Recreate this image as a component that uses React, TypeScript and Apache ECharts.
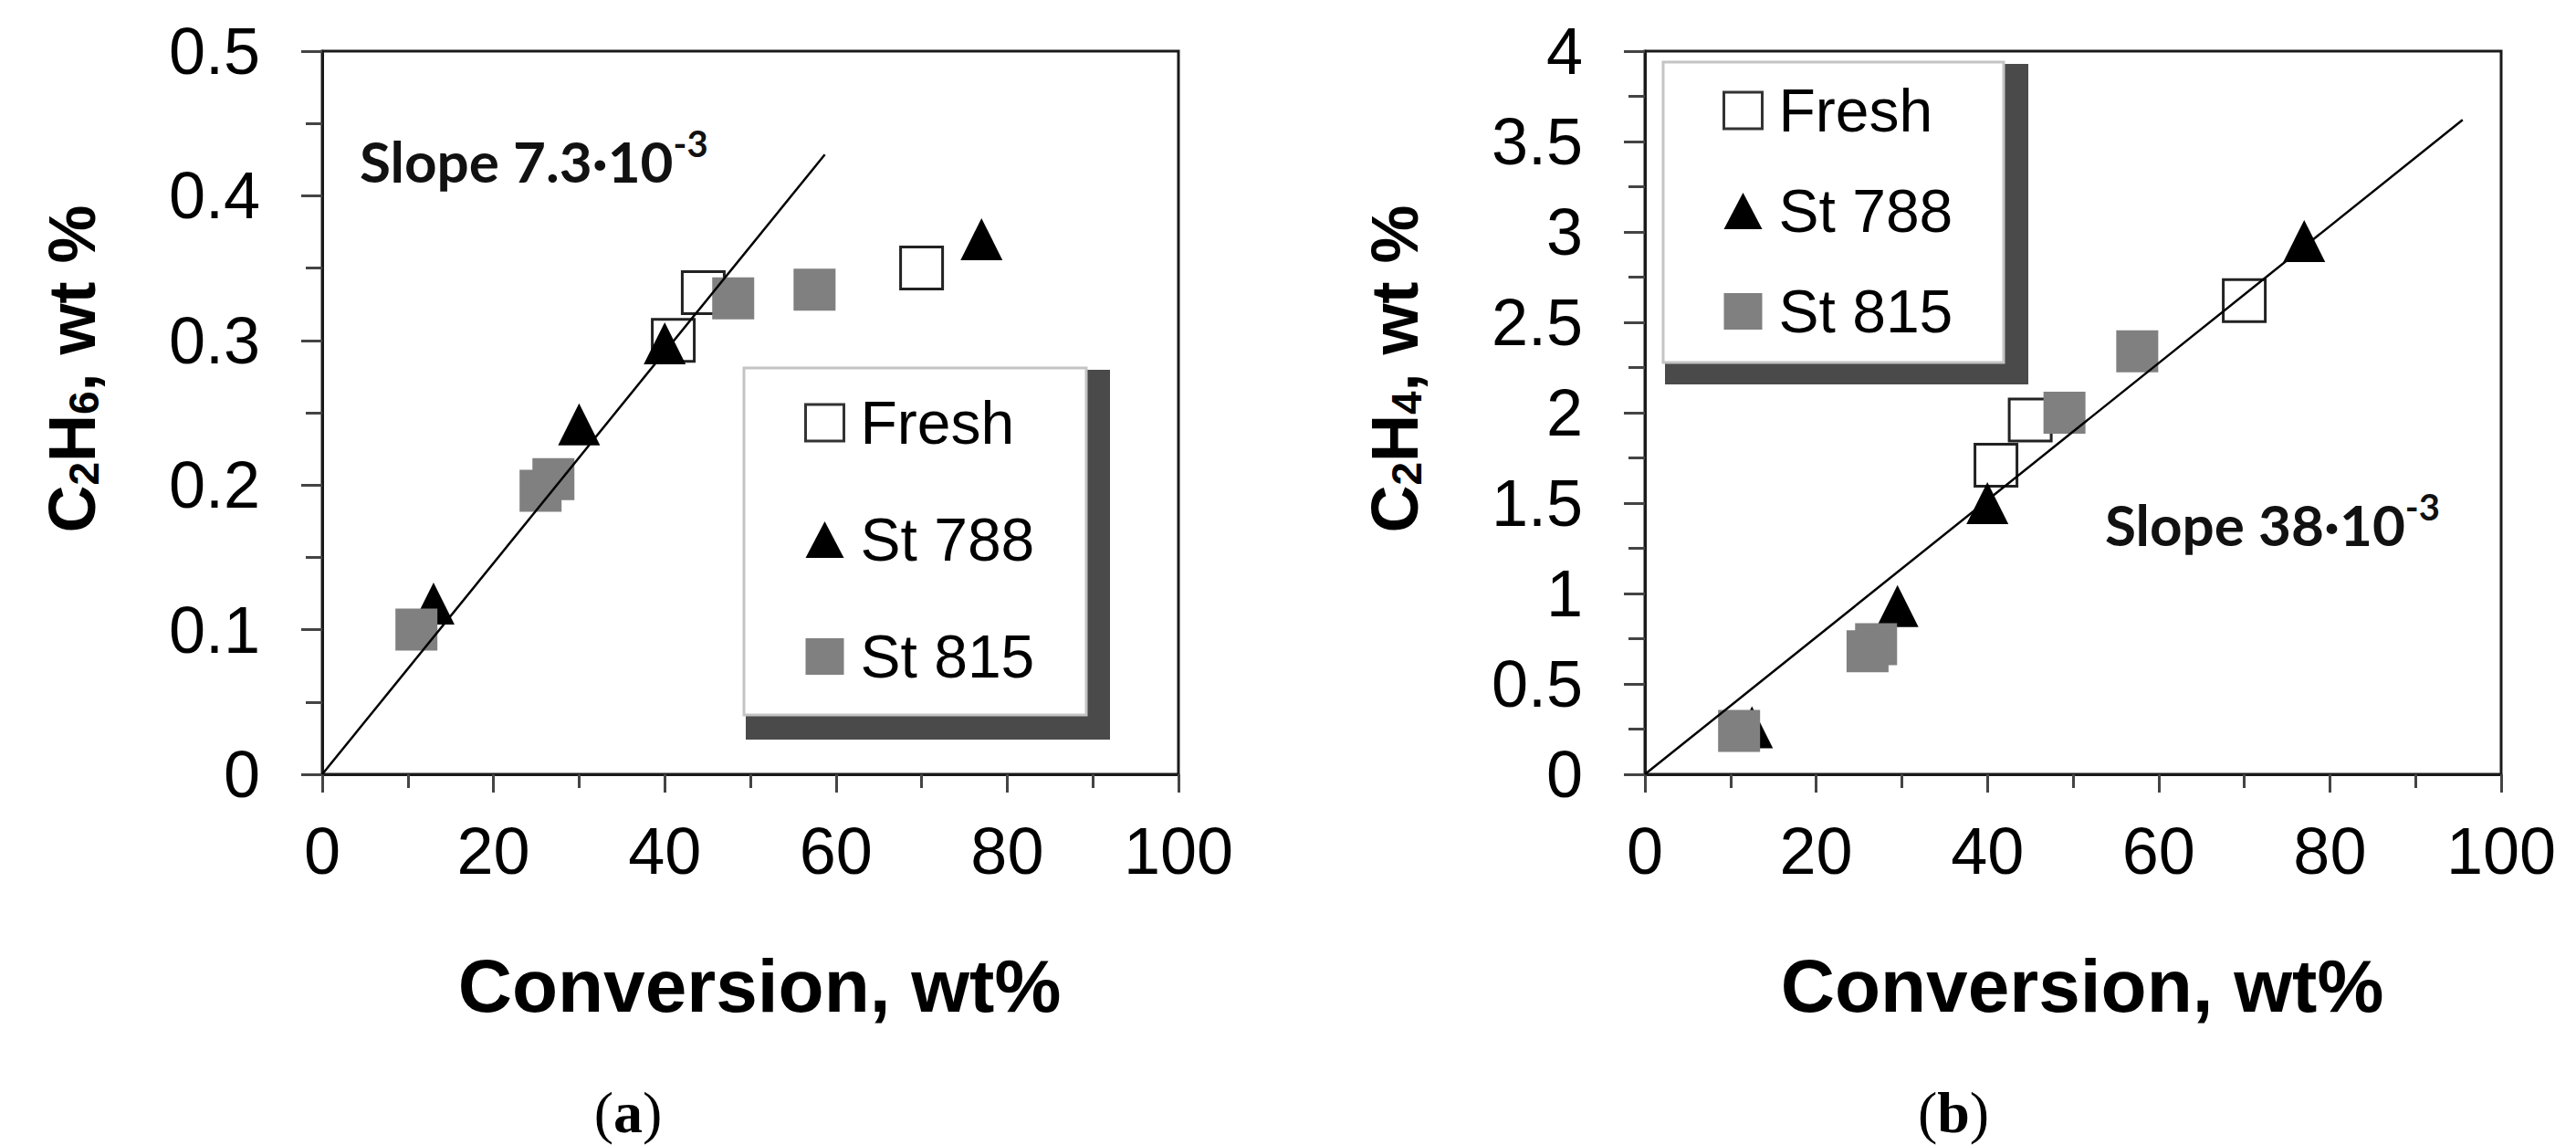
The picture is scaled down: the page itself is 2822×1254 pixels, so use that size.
import React, { useEffect, useRef } from "react";
import * as echarts from "echarts";

// ---------- data ----------
const seriesNames = ["Fresh", "St 788", "St 815"];

// Panel (a): C2H6 vs conversion
const freshA = [[41, 0.3], [44.5, 0.333], [70, 0.35]];
const st788A = [[13, 0.118], [30, 0.242], [40, 0.298], [77, 0.37]];
const st815A = [[11, 0.1], [25.5, 0.196], [27, 0.204], [48, 0.329], [57.5, 0.335]];
const fitA = [[0, 0], [58.7, 0.4285]];
const slopeA = "Slope 7.3·10";

// Panel (b): C2H4 vs conversion
const freshB = [[41, 1.71], [45, 1.96], [70, 2.62]];
const st788B = [[12.5, 0.26], [29.5, 0.93], [40, 1.5], [77, 2.95]];
const st815B = [[11, 0.24], [26, 0.68], [27, 0.72], [49, 2.0], [57.5, 2.34]];
const fitB = [[0, 0], [95.5, 3.62]];
const slopeB = "Slope 38·10";

const xRange = [0, 100, 20];
const yRangeA = [0, 0.5, 0.1];
const yRangeB = [0, 4, 0.5];

// ---------- styles ----------
const SANS = "'Liberation Sans', Arial, sans-serif";
const AXIS = "#1a1a1a";
const TICK = "#444";
const GRAY = "#808080";

function xAxis(gridIndex: number) {
  return {
    type: "value",
    gridIndex,
    min: xRange[0],
    max: xRange[1],
    interval: xRange[2],
    axisLine: { show: true, onZero: false, lineStyle: { color: AXIS, width: 3 } },
    axisTick: { show: true, inside: false, length: 20, lineStyle: { color: TICK, width: 3 } },
    minorTick: { show: true, splitNumber: 2, length: 15, lineStyle: { color: TICK, width: 3 } },
    splitLine: { show: false },
    minorSplitLine: { show: false },
    axisLabel: { fontSize: 72, color: "#000", fontFamily: SANS, margin: 48 },
    name: "Conversion, wt%",
    nameLocation: "middle",
    nameGap: 190,
    nameTextStyle: { fontSize: 82, fontWeight: "bold", fontFamily: SANS, color: "#000", padding: [0, 0, 0, 20] },
  };
}

function yAxis(gridIndex: number, range: number[], sub: string) {
  return {
    type: "value",
    gridIndex,
    min: range[0],
    max: range[1],
    interval: range[2],
    axisLine: { show: true, onZero: false, lineStyle: { color: AXIS, width: 3 } },
    axisTick: { show: true, inside: false, length: 23, lineStyle: { color: TICK, width: 3 } },
    minorTick: { show: true, splitNumber: 2, length: 18, lineStyle: { color: TICK, width: 3 } },
    splitLine: { show: false },
    minorSplitLine: { show: false },
    axisLabel: { fontSize: 72, color: "#000", fontFamily: SANS, margin: 68 },
    name: `{b|C}{s|2}{b|H}{s|${sub}}{b|, wt %}`,
    nameLocation: "middle",
    nameRotate: 90,
    nameGap: 238,
    nameTextStyle: {
      fontFamily: SANS,
      color: "#000",
      padding: [0, 0, 0, 96],
      rich: {
        b: { fontSize: 72, fontWeight: "bold", fontFamily: SANS, color: "#000", lineHeight: 80, verticalAlign: "bottom" },
        s: { fontSize: 46, fontWeight: "bold", fontFamily: SANS, color: "#000", lineHeight: 46, verticalAlign: "bottom" },
      },
    },
  };
}

function scatterSeries(idx: number, data: number[][], name: string) {
  const base: any = {
    type: "scatter",
    name,
    xAxisIndex: idx,
    yAxisIndex: idx,
    data,
    symbolSize: 46,
    z: 2,
  };
  if (name === "Fresh") {
    base.symbol = "rect";
    base.itemStyle = { color: "#fff", borderColor: "#222", borderWidth: 3, opacity: 1 };
  } else if (name === "St 788") {
    base.symbol = "triangle";
    base.itemStyle = { color: "#000", opacity: 1 };
  } else {
    base.symbol = "rect";
    base.itemStyle = { color: GRAY, opacity: 1 };
  }
  return base;
}

function fitSeries(idx: number, data: number[][]) {
  return {
    type: "line",
    name: "fit",
    xAxisIndex: idx,
    yAxisIndex: idx,
    data,
    symbol: "none",
    lineStyle: { color: "#000", width: 2.5 },
    z: 4,
    silent: true,
  };
}

const legendItems = [
  { name: seriesNames[0], icon: "rect", itemStyle: { color: "#fff", borderColor: "#333", borderWidth: 3, opacity: 1 } },
  { name: seriesNames[1], icon: "triangle", itemStyle: { color: "#000", opacity: 1 } },
  { name: seriesNames[2], icon: "rect", itemStyle: { color: GRAY, opacity: 1 } },
];

function legend(left: number, top: number, gap: number) {
  return {
    show: true,
    orient: "vertical",
    left,
    top,
    padding: 0,
    itemWidth: 42,
    itemHeight: 40,
    itemGap: gap,
    selectedMode: false,
    z: 20,
    data: legendItems,
    textStyle: { fontSize: 66, fontFamily: SANS, color: "#000", padding: [0, 0, 0, 13] },
  };
}

function legendBox(x: number, y: number, w: number, h: number, sw: number, sh: number) {
  return [
    { type: "rect", z: 10, shape: { x: x + 2, y: y + 2, width: w + sw - 2, height: h + sh - 2 }, style: { fill: "#4a4a4a" } },
    { type: "rect", z: 11, shape: { x, y, width: w, height: h }, style: { fill: "#fff", stroke: "#c4c4c4", lineWidth: 3 } },
  ];
}

function slopeText(x: number, y: number, main: string) {
  return {
    type: "text",
    z: 12,
    x,
    y,
    style: {
      text: `{m|${main}}{s|-3}`,
      rich: {
        m: { fontSize: 62, fontWeight: "bold", fontFamily: "Lato, 'Open Sans', sans-serif", fill: "#111", lineHeight: 70, verticalAlign: "bottom" },
        s: { fontSize: 40, fontWeight: "bold", fontFamily: "Lato, 'Open Sans', sans-serif", fill: "#111", lineHeight: 42, verticalAlign: "top" },
      },
      verticalAlign: "middle",
      align: "left",
    },
  };
}

function panelLabel(x: number, y: number, letter: string) {
  return {
    type: "text",
    z: 12,
    x,
    y,
    style: {
      text: `{p|(}{b|${letter}}{p|)}`,
      rich: {
        p: { fontSize: 64, fontFamily: "'Liberation Serif', 'DejaVu Serif', serif", fill: "#000", lineHeight: 66 },
        b: { fontSize: 64, fontWeight: "bold", fontFamily: "'Liberation Serif', 'DejaVu Serif', serif", fill: "#000", lineHeight: 66 },
      },
      align: "center",
      verticalAlign: "middle",
    },
  };
}

export default function App() {
  const ref = useRef<HTMLDivElement>(null);
  useEffect(() => {
    if (!ref.current) return;
    const chart = echarts.init(ref.current, undefined, { renderer: "svg" });
    const option: any = {
      animation: false,
      backgroundColor: "#fff",
      grid: [
        { left: 353, top: 56, width: 938, height: 792, show: true, borderColor: AXIS, borderWidth: 3, backgroundColor: "transparent" },
        { left: 1802, top: 56, width: 938, height: 792, show: true, borderColor: AXIS, borderWidth: 3, backgroundColor: "transparent" },
      ],
      xAxis: [xAxis(0), xAxis(1)],
      yAxis: [yAxis(0, yRangeA, "6"), yAxis(1, yRangeB, "4")],
      legend: [legend(881, 430, 62), legend(1887, 88, 44)],
      graphic: [
        ...legendBox(815, 403, 375, 380, 26, 27),
        ...legendBox(1822, 68, 373, 329, 27, 24),
        slopeText(394, 172, slopeA),
        slopeText(2306, 570, slopeB),
        panelLabel(688, 1218, "a"),
        panelLabel(2140, 1218, "b"),
      ],
      series: [
        scatterSeries(0, freshA, seriesNames[0]),
        scatterSeries(0, st788A, seriesNames[1]),
        scatterSeries(0, st815A, seriesNames[2]),
        fitSeries(0, fitA),
        scatterSeries(1, freshB, seriesNames[0]),
        scatterSeries(1, st788B, seriesNames[1]),
        scatterSeries(1, st815B, seriesNames[2]),
        fitSeries(1, fitB),
      ],
    };
    chart.setOption(option);
    return () => chart.dispose();
  }, []);
  return (
    <div
      ref={ref}
      style={{ position: "absolute", left: 0, top: 0, width: 2822, height: 1254, background: "#fff" }}
    />
  );
}
